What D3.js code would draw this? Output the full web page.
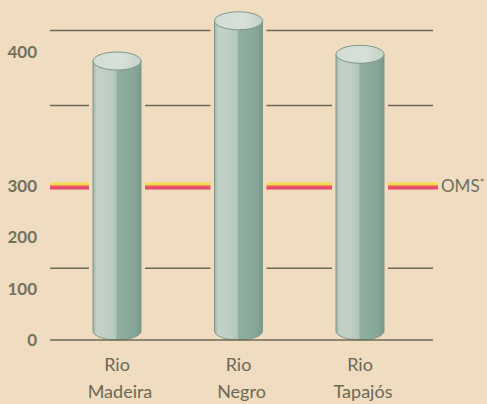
<!DOCTYPE html>
<html><head><meta charset="utf-8">
<script src="https://cdn.jsdelivr.net/npm/d3@7"></script>
<style>html,body{margin:0;padding:0;background:#efdcc1;}svg{display:block;}</style>
</head><body>
<script>
const categories = [["Rio","Madeira"],["Rio","Negro"],["Rio","Tapajós"]];
const values = [400, 430, 405];
const tickValues = [0, 100, 200, 300, 400];
const gridValues = [140, 360, 416];
const omsValue = 300;
const omsLabel = "OMS";

const W = 487, H = 404;
const bg = "#efdcc1";
const ink = "#6c6a55";
const svg = d3.select("body").append("svg").attr("width", W).attr("height", H);
svg.append("rect").attr("width", W).attr("height", H).attr("fill", bg);

const y = d3.scaleLinear().domain([0, 300, 400]).range([340, 186, 52]);
const x = d3.scalePoint().domain(categories.map(d => d[1])).range([117, 360]);
const bw = 48, ry = 9;
const gx0 = 50, gx1 = 433;

const defs = svg.append("defs");
const g = defs.append("linearGradient").attr("id", "cyl").attr("x1", "0").attr("x2", "1").attr("y1", "0").attr("y2", "0");
[["0%", "#9fb5a8"], ["8%", "#c3d2c6"], ["30%", "#c0cfc3"], ["48%", "#b3c5b9"], ["50%", "#8fae9f"], ["85%", "#87a898"], ["100%", "#7a998b"]]
  .forEach(([o, c]) => g.append("stop").attr("offset", o).attr("stop-color", c));
const gt = defs.append("linearGradient").attr("id", "cap").attr("x1", "0").attr("x2", "1");
[["0%", "#d3ddd4"], ["60%", "#d8e1d8"], ["100%", "#c2d1c6"]]
  .forEach(([o, c]) => gt.append("stop").attr("offset", o).attr("stop-color", c));
const go = defs.append("linearGradient").attr("id", "oms").attr("x1", "0").attr("x2", "0").attr("y1", "0").attr("y2", "1");
[["0%", "#f3e04c"], ["38%", "#f2d54a"], ["48%", "#ea5a6a"], ["100%", "#e2466a"]]
  .forEach(([o, c]) => go.append("stop").attr("offset", o).attr("stop-color", c));

// gridlines
svg.append("g").selectAll("line").data(gridValues).join("line")
  .attr("x1", gx0).attr("x2", gx1).attr("y1", d => y(d)).attr("y2", d => y(d))
  .attr("stroke", ink).attr("stroke-width", 1.5);

// OMS line
const yo = y(omsValue);
svg.append("rect").attr("x", gx0).attr("y", yo - 3.5).attr("width", 438 - gx0).attr("height", 7)
  .attr("fill", "url(#oms)");

// halos around bars
const bars = svg.append("g");
categories.forEach((c, i) => {
  const cx = x(c[1]);
  bars.append("rect").attr("x", cx - bw / 2 - 4).attr("width", bw + 8)
    .attr("y", y(values[i]) - 4).attr("height", y(0) - y(values[i]))
    .attr("fill", bg);
});

// baseline
svg.append("line").attr("x1", gx0).attr("x2", gx1).attr("y1", y(0)).attr("y2", y(0))
  .attr("stroke", ink).attr("stroke-width", 1.5);

// cylinders
categories.forEach((c, i) => {
  const cx = x(c[1]);
  const top = y(values[i]) + ry;
  const bot = y(0) - ry;
  const l = cx - bw / 2, r = cx + bw / 2;
  const p = `M${l},${top} L${l},${bot} A${bw / 2},${ry} 0 0 0 ${r},${bot} L${r},${top} Z`;
  bars.append("path").attr("d", p).attr("fill", "url(#cyl)").attr("stroke", "#7f978b").attr("stroke-width", 1);
  bars.append("ellipse").attr("cx", cx).attr("cy", top).attr("rx", bw / 2).attr("ry", ry)
    .attr("fill", "url(#cap)").attr("stroke", "#7f978b").attr("stroke-width", 1);
});

// tick labels
svg.append("g").selectAll("text").data(tickValues).join("text")
  .attr("x", 37).attr("y", d => y(d)).attr("dy", "0.36em").attr("text-anchor", "end")
  .attr("font-family", "Lato, sans-serif").attr("font-size", 17).attr("font-weight", 700)
  .attr("fill", "#74725e").text(d => d);

// category labels
const lab = svg.append("g").selectAll("text").data(categories).join("text")
  .attr("text-anchor", "middle").attr("font-family", "Lato, sans-serif").attr("font-size", 18)
  .attr("fill", ink);
lab.append("tspan").attr("x", d => x(d[1])).attr("y", 371).text(d => d[0]);
lab.append("tspan").attr("x", d => x(d[1]) + 3).attr("y", 398).text(d => d[1]);

// OMS label
const ot = svg.append("text").attr("x", 441).attr("y", yo).attr("dy", "0.36em")
  .attr("font-family", "Lato, sans-serif").attr("font-size", 17).attr("fill", "#6f6e5c").text(omsLabel);
ot.append("tspan").attr("font-size", 11).attr("dy", "-0.5em").text("*");
</script>
</body></html>
